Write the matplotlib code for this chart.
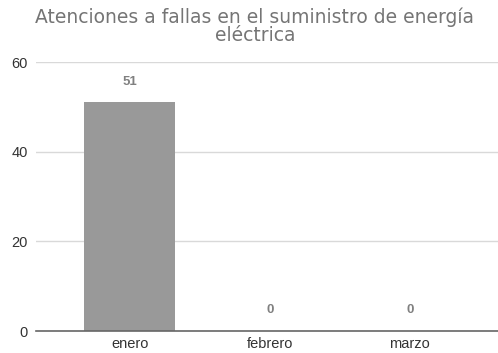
import matplotlib
matplotlib.use("Agg")
import matplotlib.pyplot as plt

# monthly counts
meses = ["enero", "febrero", "marzo"]
atenciones = [51, 0, 0]
titulo = "Atenciones a fallas en el suministro de energía\neléctrica"

fig = plt.figure(figsize=(4.98, 3.53), dpi=100)
ax = fig.add_axes([0.0723, 0.0623, 0.9277, 0.7617])

x = range(len(meses))
ax.bar(x, atenciones, width=0.65, color="#999999", zorder=3)

for xi, v in zip(x, atenciones):
    ax.annotate(str(v), (xi, v), xytext=(0, 15), textcoords="offset points",
                ha="center", va="center", fontsize=9.5, fontweight="bold",
                color="#808080", family="Liberation Sans")

ax.set_xlim(-0.671, 2.63)
ax.set_ylim(0, 60)
ax.set_yticks([0, 20, 40, 60])
ax.set_xticks(list(x))
ax.set_xticklabels(meses)
ax.grid(axis="y", color="#d9d9d9", linewidth=1, zorder=0)
for s in ["top", "right", "left"]:
    ax.spines[s].set_visible(False)
ax.spines["bottom"].set_color("#666666")
ax.spines["bottom"].set_linewidth(1.2)
ax.spines["bottom"].set_zorder(4)
ax.tick_params(axis="both", length=0, labelsize=10.5, labelcolor="#333333")
ax.tick_params(axis="y", pad=6)
ax.tick_params(axis="x", pad=4)
for lbl in ax.get_xticklabels() + ax.get_yticklabels():
    lbl.set_family("Liberation Sans")

fig.text(0.512, 0.978, titulo, ha="center", va="top", fontsize=13.5,
         color="#757575", linespacing=0.92, family="DejaVu Sans")

fig.savefig("out.png", dpi=100)
